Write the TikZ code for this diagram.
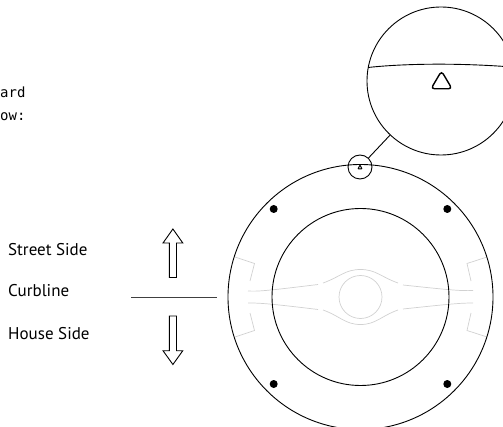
\documentclass[tikz,border=0pt]{standalone}
\usepackage{fontspec}
\setmainfont{PT Sans}
\newfontfamily\monof{DejaVu Sans Mono}
\tikzset{
  x=1pt,y=-1pt,
  ink/.style={draw=black,line width=0.9pt},
  pale/.style={draw=black!18,line width=0.7pt},
  lbl/.style={anchor=west,inner sep=0pt,font=\fontsize{17}{19}\selectfont},
  mono/.style={anchor=west,inner sep=0pt,font=\monof\fontsize{14}{16}\selectfont},
  spot/.style={circle,fill=black,inner sep=0pt,minimum size=8pt},
  ring/.style={circle,ink,inner sep=0pt,fill=none}
}
\begin{document}
\begin{tikzpicture}
\path[use as bounding box] (0,0) rectangle (503,427);
\clip (0,0) rectangle (503,427);
\node[mono] (t1) at (0,92) {ard};
\node[mono] (t2) at (0,117) {ow:};
\node[lbl] (street) at (8,250) {Street Side};
\node[lbl] (curb) at (8,291) {Curbline};
\node[lbl] (house) at (8,334) {House Side};
% pale mechanism
\draw[pale] (360.5,297) circle (21.5);
\draw[pale] (323,283) .. controls (340,277) and (345,269.5) .. (360.5,269.5) .. controls (376,269.5) and (381,277) .. (398,283);
\draw[pale] (323,310) .. controls (340,316) and (345,324.5) .. (360.5,324.5) .. controls (376,324.5) and (381,316) .. (398,310);
\draw[pale] (248,291) .. controls (258,291.5) and (265,291) .. (318,284.5);
\draw[pale] (248,303) .. controls (258,303) and (265,303) .. (318,309.5);
\draw[pale] (403,285) .. controls (450,290) and (460,291) .. (473,290.5);
\draw[pale] (403,309) .. controls (450,304) and (460,303) .. (473,303);
\draw[pale] (250,281) -- (254.5,263.5) -- (235,257);
\draw[pale] (250,313) -- (254.5,330.5) -- (235,337);
\draw[pale] (471,281) -- (467,263.5) -- (487,257);
\draw[pale] (471,313) -- (467,330.5) -- (487,337);
% rings
\node[ring,minimum size=265pt] (outer) at (360.5,297) {};
\node[ring,minimum size=177pt] (inner) at (360.5,297) {};
\node[spot] (d1) at (273.7,209) {};
\node[spot] (d2) at (447.3,209) {};
\node[spot] (d3) at (273.7,384) {};
\node[spot] (d4) at (447.3,384) {};
% magnifier
\node[ring,minimum size=148pt] (mag) at (441,81) {};
\node[ring,minimum size=24pt] (lens) at (360,167) {};
\draw[ink] (lens) -- (mag);
\draw[ink] (368,67.5) .. controls (390,65) and (440,62) .. (505,66.5);
\draw[draw=black,line width=1.4pt,rounded corners=3.5pt] (441.5,71) -- (452,88.8) -- (431,88.8) -- cycle;
\draw[ink,line width=1pt,rounded corners=0.6pt] (360,165.2) -- (362,168.8) -- (358,168.8) -- cycle;
% arrows and curb line
\coordinate (cl) at (131,297);
\coordinate (cr) at (217,297);
\draw[draw=black!75,line width=0.9pt] (cl) -- (cr);
\draw[ink,line join=miter] (169.3,277.5) -- (169.3,243) -- (163,243) -- (172.9,229) -- (182.8,243) -- (176.5,243) -- (176.5,277.5) -- cycle;
\draw[ink,line join=miter] (169.3,316) -- (169.3,350.7) -- (163,350.7) -- (172.9,364.5) -- (182.8,350.7) -- (176.5,350.7) -- (176.5,316) -- cycle;
\end{tikzpicture}
\end{document}
